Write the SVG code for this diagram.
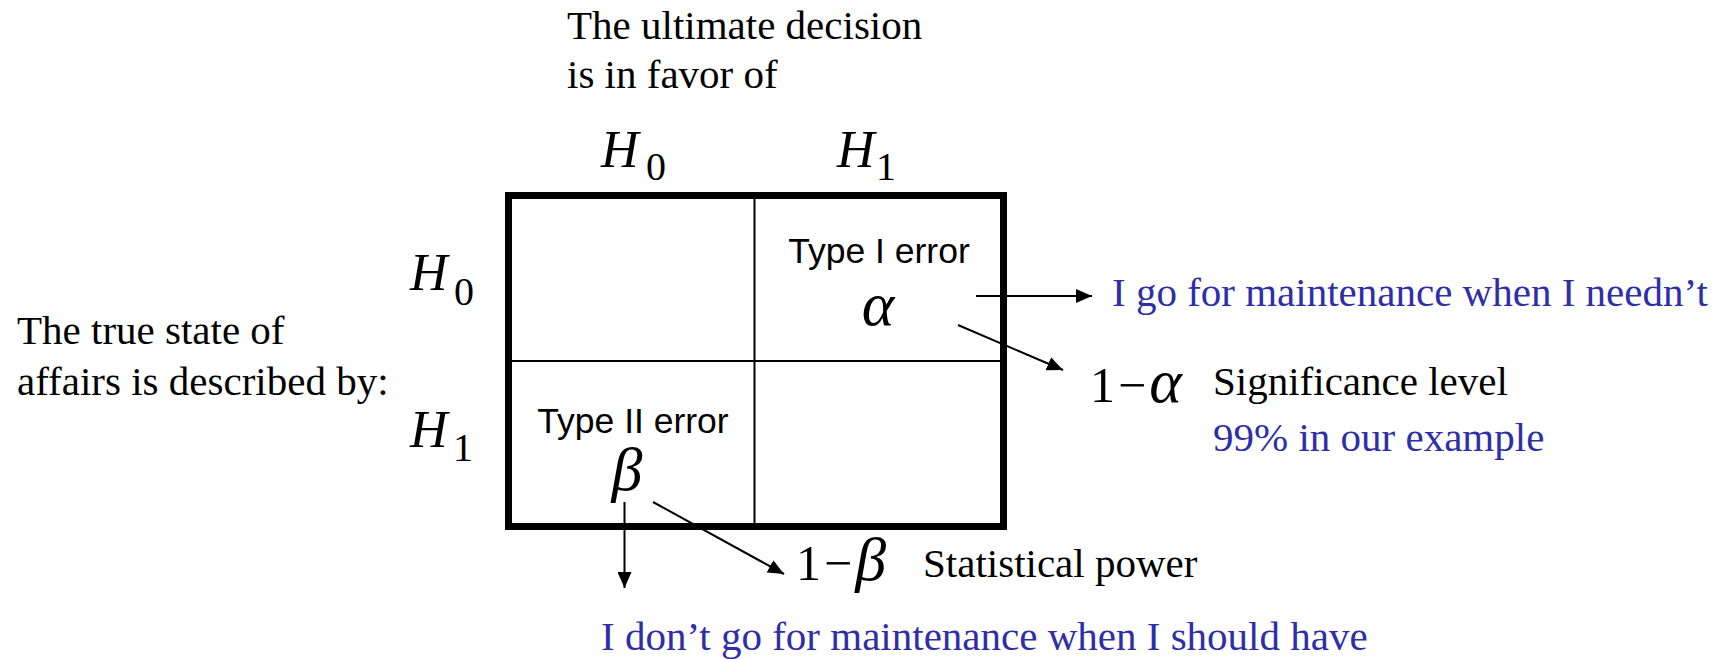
<svg xmlns="http://www.w3.org/2000/svg" width="1733" height="659" viewBox="0 0 1733 659">
<style>
.serif{font-family:"Liberation Serif","Times New Roman",serif;font-size:41px;fill:#000}
.blue{fill:#2E2EA8}
.sans{font-family:"Liberation Sans",Arial,sans-serif;font-size:35.5px;fill:#000;text-anchor:middle}
.math{font-family:"Liberation Serif","Times New Roman",serif;font-style:italic;font-size:52px;fill:#000}
.sub{font-style:normal;font-size:40px}
.big{font-family:"Liberation Serif","Times New Roman",serif;font-size:50px;fill:#000}
.greek{font-style:italic;font-size:62px}
.conn{stroke:#000;stroke-width:2;fill:none}
</style>
<defs>
<marker id="ah" markerUnits="userSpaceOnUse" markerWidth="16" markerHeight="14" refX="16" refY="7" orient="auto">
<path d="M0,0 L16,7 L0,14 z" fill="#000"/>
</marker>
</defs>
<rect width="1733" height="659" fill="#fff"/>

<g id="header-decision">
<text class="serif" x="567" y="39">The ultimate decision</text>
<text class="serif" x="567" y="88">is in favor of</text>
</g>
<g id="header-truth">
<text class="serif" x="17" y="344">The true state of</text>
<text class="serif" x="17" y="395">affairs is described by:</text>
</g>

<g id="col-H0"><text class="math" x="601" y="167">H<tspan class="sub" x="646" y="180">0</tspan></text></g>
<g id="col-H1"><text class="math" x="837" y="167">H<tspan class="sub" x="876" y="180">1</tspan></text></g>
<g id="row-H0"><text class="math" x="410" y="290">H<tspan class="sub" x="454" y="305">0</tspan></text></g>
<g id="row-H1"><text class="math" x="410" y="447">H<tspan class="sub" x="453" y="461">1</tspan></text></g>

<g id="matrix">
<rect x="508.5" y="195.5" width="495" height="331" fill="none" stroke="#000" stroke-width="7"/>
<line x1="754.5" y1="199" x2="754.5" y2="523" stroke="#000" stroke-width="2"/>
<line x1="512" y1="361" x2="1000" y2="361" stroke="#000" stroke-width="2"/>
</g>

<g id="cell-type1">
<text class="sans" x="879" y="263">Type I error</text>
<text class="big greek" x="878" y="325" text-anchor="middle">α</text>
</g>
<g id="cell-type2">
<text class="sans" x="633" y="433">Type II error</text>
<text class="big greek" x="627" y="490" text-anchor="middle">β</text>
</g>

<g id="connectors">
<line class="conn" x1="976" y1="296" x2="1092" y2="296" marker-end="url(#ah)"/>
<line class="conn" x1="958" y1="325" x2="1063" y2="370" stroke-width="1.7" marker-end="url(#ah)"/>
<line class="conn" x1="624.5" y1="502" x2="624.5" y2="588" marker-end="url(#ah)"/>
<line class="conn" x1="653" y1="502" x2="784" y2="574" stroke-width="1.7" marker-end="url(#ah)"/>
</g>

<g id="label-type1">
<text class="serif blue" x="1112" y="306">I go for maintenance when I needn’t</text>
</g>
<g id="label-significance">
<text class="big" x="1090" y="402">1<tspan dx="3">−</tspan><tspan class="greek" dx="3">α</tspan></text>
<text class="serif" x="1213" y="395">Significance level</text>
<text class="serif blue" x="1213" y="451">99% in our example</text>
</g>
<g id="label-power">
<text class="big" x="796" y="580">1<tspan dx="3">−</tspan><tspan class="greek" dx="3">β</tspan></text>
<text class="serif" x="923" y="577">Statistical power</text>
</g>
<g id="label-type2">
<text class="serif blue" x="601" y="650">I don’t go for maintenance when I should have</text>
</g>
</svg>
